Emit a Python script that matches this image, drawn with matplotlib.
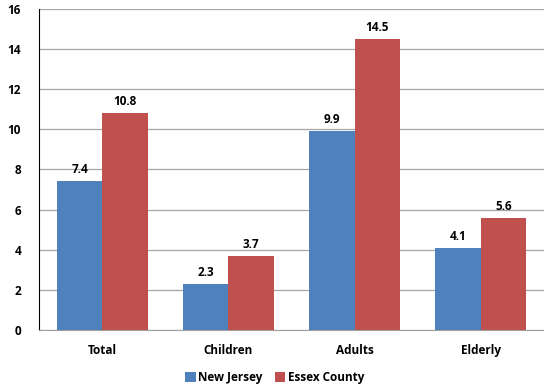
import matplotlib
matplotlib.use("Agg")
import matplotlib.pyplot as plt
import numpy as np

categories = ["Total", "Children", "Adults", "Elderly"]
new_jersey = [7.4, 2.3, 9.9, 4.1]
essex = [10.8, 3.7, 14.5, 5.6]
series_names = ["New Jersey", "Essex County"]
yticks = [0, 2, 4, 6, 8, 10, 12, 14, 16]

plt.rcParams['font.family'] = ['Open Sans', 'DejaVu Sans']

fig = plt.figure(figsize=(5.44, 3.89), dpi=100)
ax = fig.add_axes([0.072, 0.152, 0.928, 0.825])

x = np.arange(len(categories))
w = 0.36
b1 = ax.bar(x - w/2, new_jersey, w, color="#4F81BD", label=series_names[0], zorder=3)
b2 = ax.bar(x + w/2, essex, w, color="#C0504D", label=series_names[1], zorder=3)

for bars, vals in ((b1, new_jersey), (b2, essex)):
    for rect, v in zip(bars, vals):
        ax.text(rect.get_x() + rect.get_width()/2, v + 0.25, f"{v:.1f}",
                ha="center", va="bottom", fontsize=8.5, fontweight="bold")

ax.set_xlim(-0.5, len(categories) - 0.5)
ax.set_ylim(0, 16)
ax.set_yticks(yticks)
ax.set_yticklabels([str(t) for t in yticks], fontsize=8.5, fontweight="bold")
ax.set_xticks(x)
ax.set_xticklabels(categories, fontsize=8.5, fontweight="bold")
ax.tick_params(axis="both", length=0)
ax.tick_params(axis="x", pad=10)
ax.tick_params(axis="y", pad=13)
ax.grid(axis="y", color="#A6A6A6", linewidth=0.9, zorder=0)
for s in ["top", "right"]:
    ax.spines[s].set_visible(False)
ax.spines["left"].set_color("black")
ax.spines["bottom"].set_color("#A0A0A0")

fig.legend(handles=[b1, b2], labels=series_names, loc="center",
           bbox_to_anchor=(0.505, 0.03), ncol=2, frameon=False,
           prop={"size": 8.5, "weight": "bold"}, handlelength=0.9, handleheight=0.9,
           handletextpad=0.2, columnspacing=1.0)

fig.savefig("out.png", dpi=100)
